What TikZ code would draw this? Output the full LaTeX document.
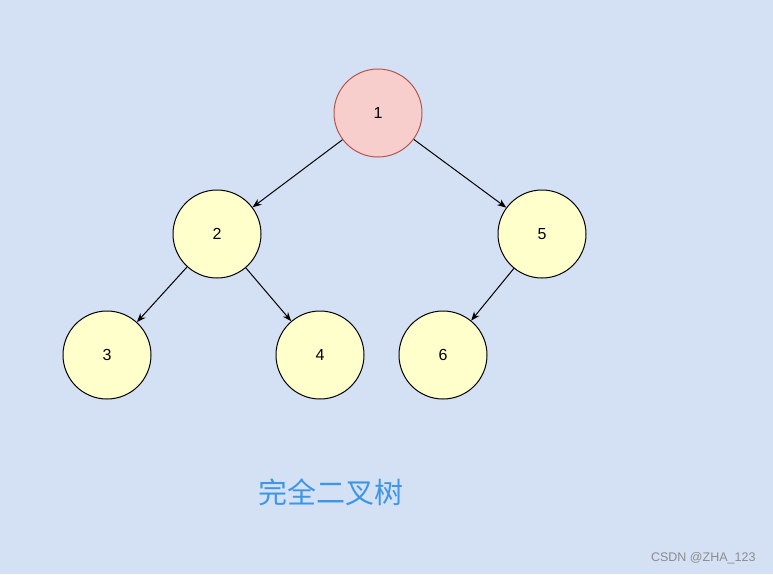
\documentclass[tikz,border=0pt]{standalone}
\usepackage{fontspec}
\setmainfont{Liberation Sans}
\newfontfamily\cjk{Noto Sans CJK SC}
\usetikzlibrary{arrows.meta}
\definecolor{bgblue}{HTML}{D4E1F5}
\definecolor{rootfill}{HTML}{F8CECC}
\definecolor{rootline}{HTML}{B85450}
\definecolor{leaffill}{HTML}{FFFFCC}
\definecolor{titleblue}{HTML}{3D97E6}

\begin{document}
\begin{tikzpicture}[x=1pt,y=-1pt,
    root_node/.style={circle,draw=rootline,fill=rootfill,line width=1pt,minimum size=88pt,inner sep=0pt,font=\fontsize{16}{18}\selectfont},
    tree_node/.style={circle,draw=black,fill=leaffill,line width=1pt,minimum size=88pt,inner sep=0pt,font=\fontsize{16}{18}\selectfont}]

    \fill[bgblue] (0,0) rectangle (773,574);
    \useasboundingbox (0,0) rectangle (773,574);

    \node[root_node] (1) at (378,113) {1};
    \node[tree_node] (2) at (217,234) {2};
    \node[tree_node] (5) at (542,234) {5};
    \node[tree_node] (3) at (107,355) {3};
    \node[tree_node] (4) at (320,355) {4};
    \node[tree_node] (6) at (443,355) {6};

  \path[every edge/.style={draw,-{Stealth[length=9pt,width=7pt]},line width=1pt}]
    (1) edge (2)
    (1) edge (5)
    (2) edge (3)
    (2) edge (4)
    (5) edge (6);

    \node[text=titleblue,font=\cjk\fontsize{29}{33}\selectfont] (title) at (331,492) {完全二叉树};
    \node[text=black!45,font=\fontsize{12.5}{14}\selectfont,anchor=east] (mark) at (759,558) {CSDN @ZHA\_123};

\end{tikzpicture}
\end{document}
